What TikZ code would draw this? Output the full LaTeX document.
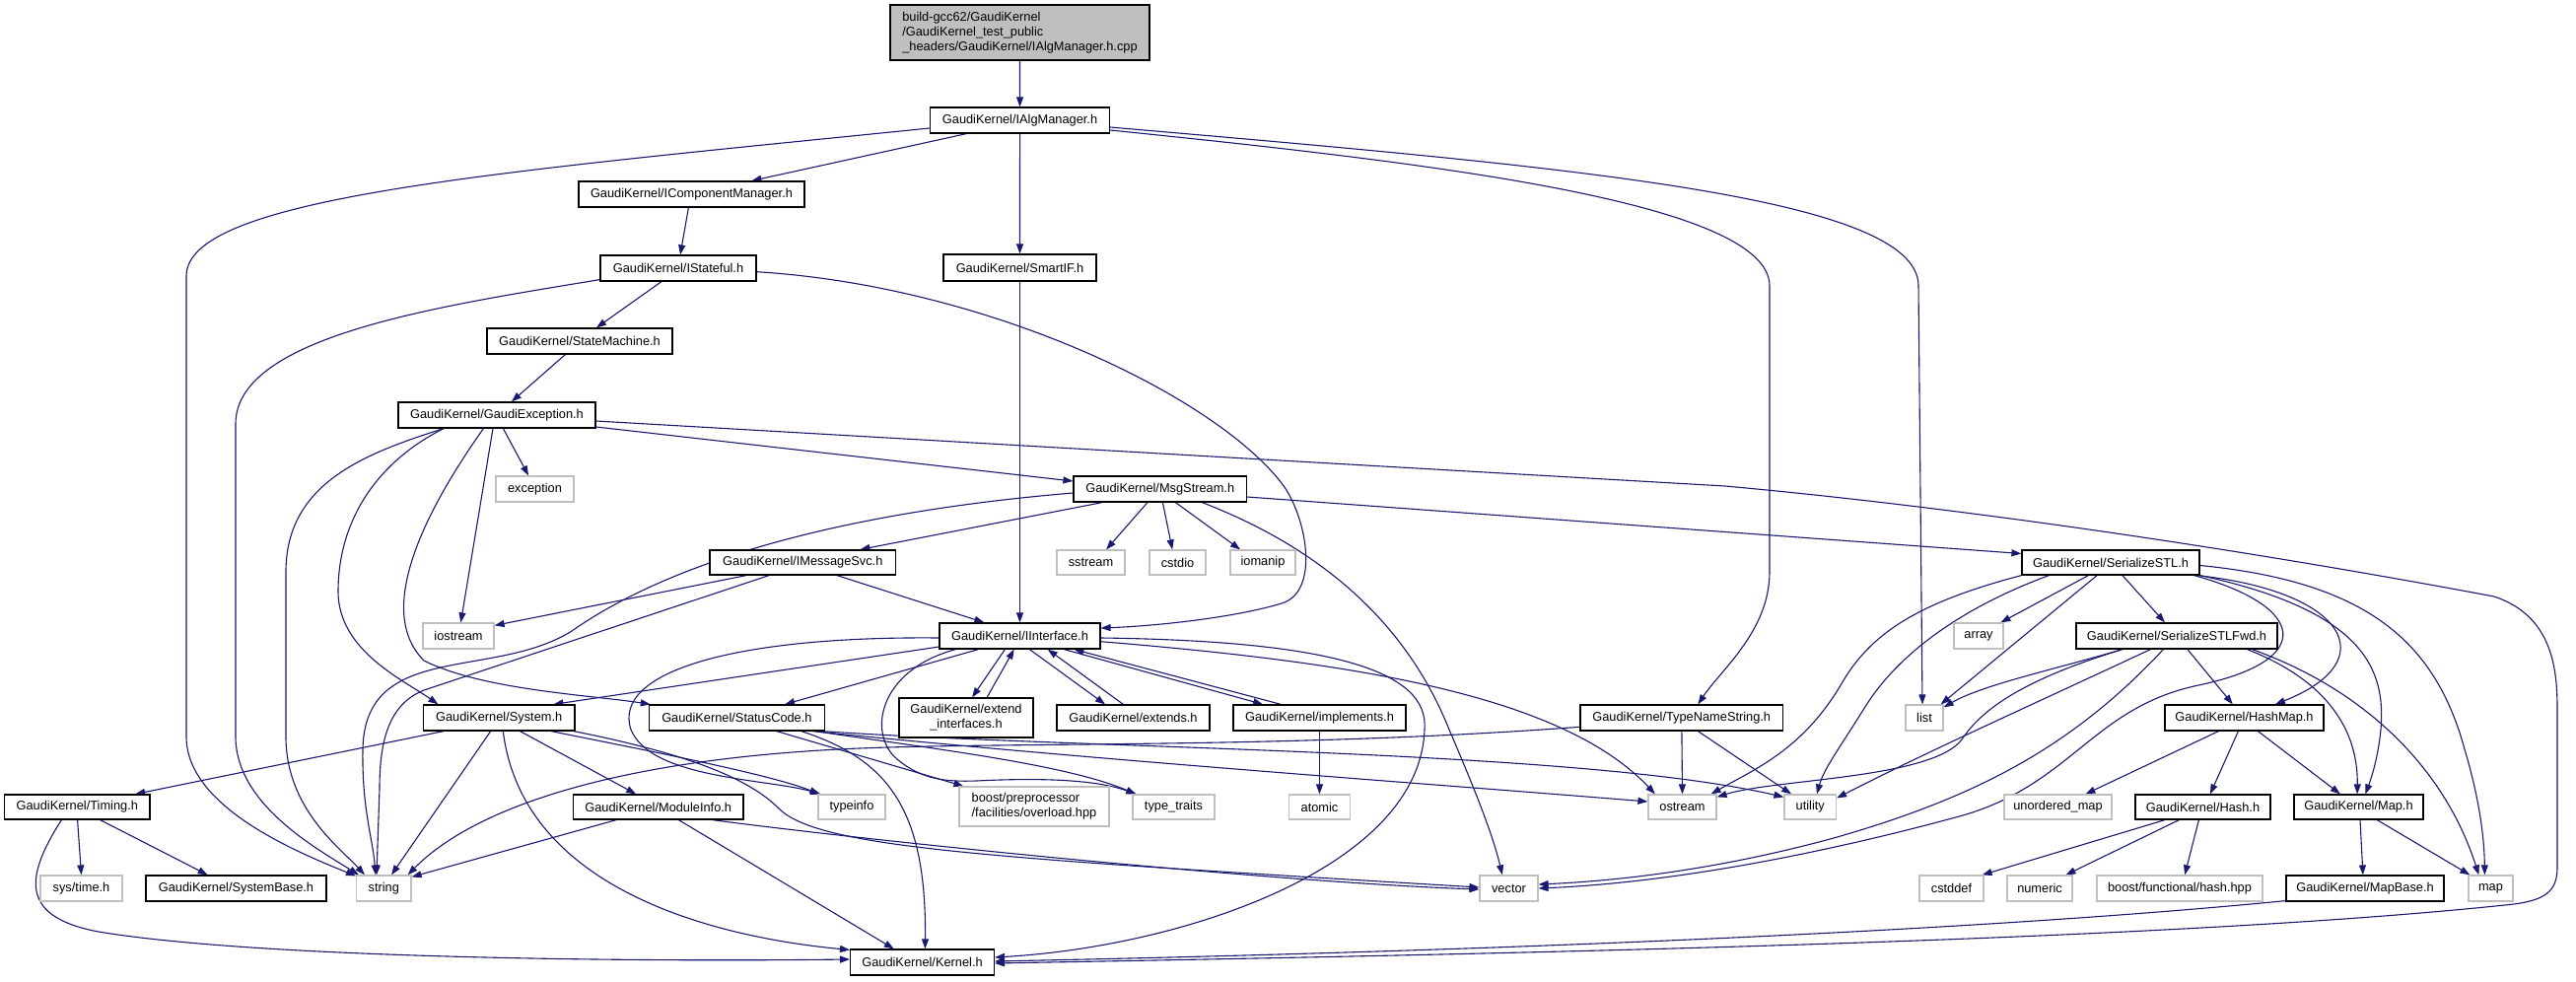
\documentclass[tikz,border=0pt]{standalone}
\usepackage{fontspec}
\setmainfont{Liberation Sans}
\usetikzlibrary{arrows.meta}
\definecolor{edgec}{HTML}{191970}
\definecolor{extgray}{HTML}{BFBFBF}
\pgfdeclarelayer{bg}
\pgfsetlayers{bg,main}
\newcommand\mkbox[7]{\node[#2, minimum width={(#5-#3)*1bp}, minimum height={(#6-#4)*1bp}] (#1) at ({(#3+#5)/2},{(#4+#6)/2}) {#7};}
\begin{document}
\begin{tikzpicture}[x=1bp,y=-1bp,
  nbox/.style={draw=black, fill=white, line width=1.2bp, inner sep=0pt, align=center, font=\fontsize{12.8bp}{15bp}\selectfont},
  xbox/.style={nbox, draw=extgray},
  topbox/.style={nbox, fill=extgray, align=left},
  ed/.style={draw=edgec, line width=1.1bp, -{Triangle[length=10bp,width=7bp]}}]
\useasboundingbox (0,0) rectangle (2613,995);
% nodes
\mkbox{top}{topbox}{903}{5}{1166}{61}{build-gcc62/GaudiKernel\\/GaudiKernel\_test\_public\\\_headers/GaudiKernel/IAlgManager.h.cpp}
\mkbox{ialg}{nbox}{943.6}{109}{1125.5}{135}{GaudiKernel/IAlgManager.h}
\mkbox{smartif}{nbox}{957}{258}{1112}{285}{GaudiKernel/SmartIF.h}
\mkbox{icm}{nbox}{587}{184}{816}{210}{GaudiKernel/IComponentManager.h}
\mkbox{istate}{nbox}{609}{259}{767}{285}{GaudiKernel/IStateful.h}
\mkbox{stm}{nbox}{494}{333}{682}{359}{GaudiKernel/StateMachine.h}
\mkbox{gex}{nbox}{404}{408}{604}{434}{GaudiKernel/GaudiException.h}
\mkbox{exc}{xbox}{503}{483}{582}{509}{exception}
\mkbox{msg}{nbox}{1089}{483}{1264.5}{509}{GaudiKernel/MsgStream.h}
\mkbox{sstr}{xbox}{1072}{558}{1141}{583}{sstream}
\mkbox{cstdio}{xbox}{1166}{558}{1223}{583}{cstdio}
\mkbox{iomanip}{xbox}{1248}{558}{1314}{583}{iomanip}
\mkbox{imsg}{nbox}{720}{558}{908.6}{583}{GaudiKernel/IMessageSvc.h}
\mkbox{iostr}{xbox}{429}{632}{501}{658}{iostream}
\mkbox{iif}{nbox}{953}{632}{1116}{658}{GaudiKernel/IInterface.h}
\mkbox{sys}{nbox}{429.4}{715}{583}{741}{GaudiKernel/System.h}
\mkbox{stc}{nbox}{658.4}{715}{836.4}{741}{GaudiKernel/StatusCode.h}
\mkbox{extif}{nbox}{912}{708}{1048}{748}{GaudiKernel/extend\\\_interfaces.h}
\mkbox{extends}{nbox}{1072}{715}{1227}{741}{GaudiKernel/extends.h}
\mkbox{impl}{nbox}{1251}{715}{1426}{741}{GaudiKernel/implements.h}
\mkbox{tns}{nbox}{1603}{715}{1808.5}{741}{GaudiKernel/TypeNameString.h}
\mkbox{sstl}{nbox}{2051}{558}{2231}{583}{GaudiKernel/SerializeSTL.h}
\mkbox{array}{xbox}{1982}{632}{2032}{658}{array}
\mkbox{sstlf}{nbox}{2106}{632}{2310}{658}{GaudiKernel/SerializeSTLFwd.h}
\mkbox{list}{xbox}{1933}{715}{1971}{741}{list}
\mkbox{hmap}{nbox}{2196}{715}{2357}{741}{GaudiKernel/HashMap.h}
\mkbox{ostr}{xbox}{1672}{806}{1741}{831}{ostream}
\mkbox{util}{xbox}{1810}{806}{1862.5}{831}{utility}
\mkbox{umap}{xbox}{2033}{806}{2142}{831}{unordered\_map}
\mkbox{hash}{nbox}{2166}{806}{2303}{831}{GaudiKernel/Hash.h}
\mkbox{mapH}{nbox}{2327}{806}{2458}{831}{GaudiKernel/Map.h}
\mkbox{cstddef}{xbox}{1947}{888}{2012}{914}{cstddef}
\mkbox{numeric}{xbox}{2036}{888}{2102}{914}{numeric}
\mkbox{bfh}{xbox}{2127}{888}{2295}{914}{boost/functional/hash.hpp}
\mkbox{mapbase}{nbox}{2319}{888}{2479}{914}{GaudiKernel/MapBase.h}
\mkbox{map}{xbox}{2504}{888}{2549}{914}{map}
\mkbox{typeinfo}{xbox}{830}{806}{898}{831}{typeinfo}
\node[xbox, align=left, minimum width=152bp, minimum height=40bp] (bpp) at (1049,818) {boost/preprocessor\\/facilities/overload.hpp};
\mkbox{ttraits}{xbox}{1149}{806}{1232}{831}{type\_traits}
\mkbox{atomic}{xbox}{1307.5}{806}{1369.5}{831}{atomic}
\mkbox{vector}{xbox}{1501}{888}{1560}{914}{vector}
\mkbox{kernel}{nbox}{862.6}{963}{1008.4}{989}{GaudiKernel/Kernel.h}
\mkbox{timing}{nbox}{4.6}{806}{152}{831}{GaudiKernel/Timing.h}
\mkbox{modinfo}{nbox}{581.5}{806}{754}{831}{GaudiKernel/ModuleInfo.h}
\mkbox{systime}{xbox}{41}{888}{124}{914}{sys/time.h}
\mkbox{sysbase}{nbox}{148}{888}{331}{914}{GaudiKernel/SystemBase.h}
\mkbox{string}{xbox}{361.6}{888}{417}{914}{string}
% edges
\begin{pgfonlayer}{bg}
\draw[ed] (top) -- (ialg);
\draw[ed] ([xshift=37.4bp]ialg.south west) -- ([xshift=176bp]icm.north west);
\draw[ed] ([yshift=-8bp]ialg.west) .. controls (500,175) and (189,200) .. (189,280) -- (189,747) .. controls (189,815) and (290,860) .. ([yshift=-1bp]string.north west);
\draw[ed] (ialg) -- (smartif);
\draw[ed] ([yshift=-10bp]ialg.east) .. controls (1450,165) and (1795,205) .. (1795,290) -- (1795,580) .. controls (1795,640) and (1745,680) .. ([xshift=120bp]tns.north west);
\draw[ed] ([yshift=-7bp]ialg.east) .. controls (1600,170) and (1946,200) .. (1946,290) -- ([xshift=-2bp]list.north);
\draw[ed] ([xshift=112bp]icm.south west) -- ([xshift=81.6bp]istate.north west);
\draw[ed] ([xshift=62.6bp]istate.south west) -- ([xshift=111.6bp]stm.north west);
\draw[ed] ([yshift=2bp]istate.south west) .. controls (450,310) and (239,340) .. (239,430) -- (239,747) .. controls (239,815) and (320,860) .. ([xshift=3bp]string.north west);
\draw[ed] ([yshift=-3.7bp]istate.east) .. controls (1000,290) and (1230,400) .. (1300,490) .. controls (1325,522) and (1340,600) .. (1300,612) .. controls (1250,627) and (1170,635) .. ([yshift=8bp]iif.east);
\draw[ed] ([xshift=80bp]stm.south west) -- ([xshift=115.5bp]gex.north west);
\draw[ed] ([xshift=107bp]gex.south west) -- ([xshift=33.7bp]exc.north west);
\draw[ed] ([xshift=96.6bp]gex.south west) -- ([xshift=39bp]iostr.north west);
\draw[ed] ([xshift=46.6bp]gex.south west) .. controls (370,460) and (290,490) .. (290,580) -- (290,747) .. controls (290,820) and (345,860) .. ([xshift=9bp]string.north west);
\draw[ed] ([xshift=46.6bp]gex.south west) .. controls (380,470) and (343,530) .. (343,600) .. controls (343,660) and (410,690) .. ([xshift=15.6bp]sys.north west);
\draw[ed] ([xshift=87bp]gex.south west) .. controls (430,520) and (380,620) .. (430,670) .. controls (490,700) and (600,705) .. ([xshift=2bp]stc.north west);
\draw[ed] ([yshift=-12bp]gex.east) -- ([yshift=8bp]msg.west);
\draw[ed] ([yshift=-6bp]gex.east) -- (1750,493) .. controls (2100,525) and (2450,590) .. (2530,605) .. controls (2590,625) and (2594,680) .. (2594,720) -- (2594,880) .. controls (2594,905) and (2580,913) .. (2550,917) .. controls (2200,955) and (1500,968) .. ([yshift=-1bp]kernel.east);
\draw[ed] ([xshift=75.6bp]msg.south west) -- ([xshift=50.7bp]sstr.north west);
\draw[ed] ([xshift=91bp]msg.south west) -- ([xshift=23.8bp]cstdio.north west);
\draw[ed] ([xshift=104bp]msg.south west) -- ([xshift=10.7bp]iomanip.north west);
\draw[ed] ([xshift=29.7bp]msg.south west) -- ([xshift=153bp]imsg.north west);
\draw[ed] ([yshift=-4bp]msg.west) .. controls (850,520) and (680,570) .. (580,640) .. controls (500,690) and (370,650) .. (368,760) .. controls (367,820) and (378,850) .. ([xshift=20bp]string.north west);
\draw[ed] ([yshift=-8bp]msg.east) -- ([yshift=9bp]sstl.west);
\draw[ed] ([xshift=131bp]msg.south west) .. controls (1350,560) and (1430,640) .. (1470,740) .. controls (1500,810) and (1515,850) .. ([xshift=23.5bp]vector.north west);
\draw[ed] ([xshift=37.7bp]imsg.south west) -- ([yshift=-3bp]iostr.north east);
\draw[ed] ([xshift=60.7bp]imsg.south west) -- (430,700) .. controls (395,714) and (385,750) .. (385,800) -- ([xshift=21bp]string.north west);
\draw[ed] ([xshift=129.6bp]imsg.south west) -- ([xshift=46bp]iif.north west);
\draw[ed] (smartif) -- (iif);
\draw[ed] ([yshift=-11bp]iif.west) -- ([xshift=132.6bp]sys.north west);
\draw[ed] ([xshift=40bp]iif.south west) -- ([xshift=138.3bp]stc.north west);
\draw[ed] ([yshift=-2bp]iif.west) .. controls (750,645) and (620,680) .. (640,740) .. controls (660,790) and (780,790) .. ([xshift=3bp]typeinfo.north west);
\draw[ed] ([xshift=67bp]iif.south west) -- ([xshift=74.7bp]extif.north west);
\draw[ed] ([xshift=89.7bp]extif.north west) -- ([xshift=76.3bp]iif.south west);
\draw[ed] ([xshift=92bp]iif.south west) -- ([xshift=49.7bp]extends.north west);
\draw[ed] ([xshift=68bp]extends.north west) -- ([xshift=110.3bp]iif.south west);
\draw[ed] ([xshift=127bp]iif.south west) -- ([xshift=30.7bp]impl.north west);
\draw[ed] ([xshift=49bp]impl.north west) -- ([xshift=137bp]iif.south west);
\draw[ed] ([xshift=17bp]iif.south west) .. controls (890,680) and (880,745) .. (910,770) .. controls (935,791) and (960,793) .. (990,792) .. controls (1050,789) and (1110,790) .. ([xshift=4bp]ttraits.north west);
\draw[ed] ([yshift=-2bp]iif.east) .. controls (1350,650) and (1450,680) .. (1445,740) .. controls (1440,880) and (1200,960) .. ([yshift=5bp]kernel.east);
\draw[ed] ([yshift=-5.7bp]iif.east) .. controls (1350,670) and (1580,700) .. ([xshift=7.5bp]ostr.north west);
\draw[ed] ([xshift=130bp]stc.south west) -- ([xshift=5bp]bpp.north west);
\draw[ed] ([xshift=155bp]stc.south west) .. controls (900,770) and (940,820) .. ([xshift=76.4bp]kernel.north west);
\draw[ed] ([xshift=-10bp]stc.south east) .. controls (950,760) and (1080,775) .. ([xshift=4bp]ttraits.north west);
\draw[ed] ([xshift=-13bp]stc.south east) .. controls (1100,770) and (1450,795) .. ([yshift=5.5bp]ostr.west);
\draw[ed] ([xshift=-3bp]stc.south east) .. controls (1100,760) and (1600,760) .. ([yshift=-3bp]util.north west);
\draw[ed] ([yshift=-9.3bp]tns.west) .. controls (1300,760) and (1000,752) .. (850,760) .. controls (620,772) and (480,820) .. ([xshift=-4bp]string.north east);
\draw[ed] ([xshift=103.5bp]tns.south west) -- (ostr.north);
\draw[ed] ([xshift=120bp]tns.south west) -- ([xshift=7.7bp]util.north west);
\draw[ed] ([xshift=21.2bp]sys.south west) -- ([xshift=133.2bp]timing.north west);
\draw[ed] ([xshift=68.9bp]sys.south west) -- ([xshift=36bp]string.north west);
\draw[ed] ([xshift=81.5bp]sys.south west) .. controls (530,900) and (720,950) .. ([yshift=-1bp]kernel.north west);
\draw[ed] ([xshift=98.7bp]sys.south west) -- ([xshift=64.3bp]modinfo.north west);
\draw[ed] ([xshift=130.3bp]sys.south west) .. controls (650,760) and (780,785) .. ([xshift=2bp]typeinfo.north west);
\draw[ed] ([xshift=153bp]sys.south west) .. controls (700,765) and (760,790) .. (790,820) .. controls (830,860) and (1000,870) .. ([yshift=1bp]vector.west);
\draw[ed] ([xshift=44.2bp]modinfo.south west) -- ([yshift=-2bp]string.north east);
\draw[ed] ([xshift=107.5bp]modinfo.south west) -- ([xshift=44.8bp]kernel.north west);
\draw[ed] ([xshift=141.8bp]modinfo.south west) .. controls (900,855) and (1300,895) .. ([yshift=-1bp]vector.west);
\draw[ed] ([xshift=74.6bp]timing.south west) -- (systime.north);
\draw[ed] ([xshift=97.6bp]timing.south west) -- ([xshift=63.3bp]sysbase.north west);
\draw[ed] ([xshift=58.4bp]timing.south west) .. controls (25,890) and (20,930) .. (100,945) .. controls (250,970) and (600,976) .. ([yshift=3bp]kernel.west);
\draw[ed] (impl) -- (atomic);
\draw[ed] ([xshift=68bp]sstl.south west) -- ([xshift=48bp]array.north west);
\draw[ed] ([xshift=102.5bp]sstl.south west) -- ([xshift=90.6bp]sstlf.north west);
\draw[ed] ([xshift=76.7bp]sstl.south west) -- ([xshift=-3bp]list.north east);
\draw[ed] (sstl.south west) .. controls (1950,610) and (1900,640) .. (1870,690) .. controls (1830,760) and (1780,780) .. ([xshift=-6bp]ostr.north east);
\draw[ed] ([xshift=28bp]sstl.south west) .. controls (1980,620) and (1920,670) .. (1890,720) .. controls (1865,760) and (1850,780) .. ([xshift=33.5bp]util.north west);
\draw[ed] ([xshift=-6bp]sstl.south east) .. controls (2340,615) and (2350,670) .. (2230,695) .. controls (2120,718) and (2100,800) .. (1980,830) .. controls (1850,865) and (1700,895) .. (vector.east);
\draw[ed] ([xshift=-3bp]sstl.south east) .. controls (2380,600) and (2420,670) .. ([xshift=112.5bp]hmap.north west);
\draw[ed] (sstl.south east) .. controls (2400,620) and (2420,680) .. (2415,740) .. controls (2412,770) and (2405,790) .. ([xshift=73bp]mapH.north west);
\draw[ed] ([yshift=-3bp]sstl.east) .. controls (2400,590) and (2470,650) .. (2500,760) .. controls (2515,810) and (2520,850) .. ([xshift=17bp]map.north west);
\draw[ed] ([xshift=47.5bp]sstlf.south west) .. controls (2080,680) and (2010,695) .. ([yshift=-3bp]list.north east);
\draw[ed] ([xshift=47.5bp]sstlf.south west) .. controls (2050,690) and (2010,720) .. (1990,750) .. controls (1960,790) and (1800,790) .. ([yshift=-3bp]ostr.north east);
\draw[ed] ([xshift=76bp]sstlf.south west) .. controls (2050,720) and (1960,760) .. ([yshift=-4bp]util.north east);
\draw[ed] ([xshift=89bp]sstlf.south west) .. controls (2100,760) and (2000,810) .. (1860,850) .. controls (1750,880) and (1650,893) .. ([yshift=4bp]vector.east);
\draw[ed] ([xshift=113.5bp]sstlf.south west) -- ([xshift=69.4bp]hmap.north west);
\draw[ed] ([xshift=174bp]sstlf.south west) .. controls (2360,690) and (2392,740) .. ([xshift=64.7bp]mapH.north west);
\draw[ed] ([xshift=179bp]sstlf.south west) .. controls (2400,700) and (2480,780) .. ([xshift=11bp]map.north west);
\draw[ed] ([xshift=55bp]hmap.south west) -- ([xshift=83bp]umap.north west);
\draw[ed] ([xshift=75bp]hmap.south west) -- ([xshift=76.5bp]hash.north west);
\draw[ed] ([xshift=95bp]hmap.south west) -- ([xshift=47.5bp]mapH.north west);
\draw[ed] ([xshift=30.6bp]hash.south west) -- ([xshift=-2bp]cstddef.north east);
\draw[ed] ([xshift=45bp]hash.south west) -- ([xshift=60bp]numeric.north west);
\draw[ed] ([xshift=65bp]hash.south west) -- ([xshift=89.7bp]bfh.north west);
\draw[ed] ([xshift=67.6bp]mapH.south west) -- ([xshift=78.5bp]mapbase.north west);
\draw[ed] ([xshift=84.8bp]mapH.south west) -- ([xshift=2bp]map.north west);
\draw[ed] ([yshift=1bp]mapbase.south west) .. controls (2000,945) and (1500,965) .. ([yshift=1bp]kernel.east);
\end{pgfonlayer}
\end{tikzpicture}
\end{document}
